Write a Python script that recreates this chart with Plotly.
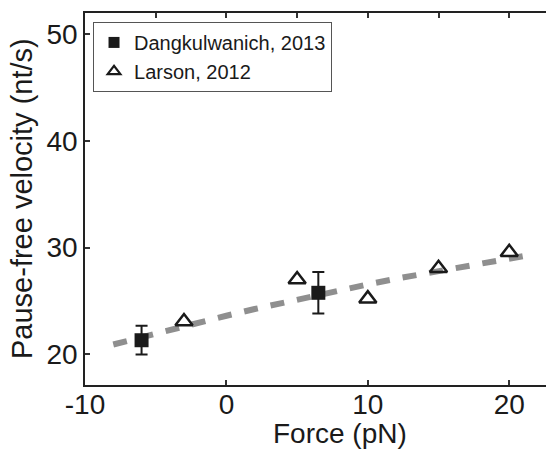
import plotly.graph_objects as go

# Data
dang_force = [-6, 6.5]
dang_vel = [21.3, 25.75]
dang_err = [1.35, 1.95]

larson_force = [-3, 5, 10, 15, 20]
larson_vel = [23.05, 27.0, 25.2, 28.05, 29.55]

fit_force = [-8, -6, -4, -2, 0, 2, 4, 6, 8, 10, 12, 14, 16, 18, 20, 21.5]
fit_vel = [20.9, 21.6, 22.29, 22.95, 23.6, 24.23, 24.83, 25.42, 25.99,
           26.54, 27.07, 27.57, 28.06, 28.53, 28.98, 29.31]

x_range = [-10, 22.6]
y_range = [17.1, 52]
x_ticks = [-10, 0, 10, 20]
x_ticklabels = ["-10", "0", "10", "20"]
y_ticks = [20, 30, 40, 50]

FONT = "Liberation Sans, Arial, sans-serif"
INK = "#1a1a1a"

fig = go.Figure()

fig.add_trace(go.Scatter(
    x=fit_force, y=fit_vel, mode="lines",
    line=dict(color="#8f8f8f", width=6, dash="14px,13px"),
    showlegend=False, hoverinfo="skip"))

fig.add_trace(go.Scatter(
    x=dang_force, y=dang_vel, mode="markers",
    marker=dict(symbol="square", size=14, color=INK),
    error_y=dict(type="data", array=dang_err, color=INK, thickness=2, width=6),
    showlegend=False))

fig.add_trace(go.Scatter(
    x=larson_force, y=larson_vel, mode="markers",
    marker=dict(symbol="triangle-up-open", size=15, color=INK,
                line=dict(width=2.5, color=INK)),
    showlegend=False))

# legend entries (smaller symbols as in the reference legend)
fig.add_trace(go.Scatter(
    x=[None], y=[None], mode="markers", name="Dangkulwanich, 2013",
    marker=dict(symbol="square", size=11, color=INK)))
fig.add_trace(go.Scatter(
    x=[None], y=[None], mode="markers", name="Larson, 2012",
    marker=dict(symbol="triangle-up-open", size=11, color=INK,
                line=dict(width=2.2, color=INK))))

# top axis ticks every 5
fig.add_trace(go.Scatter(x=[None], y=[None], xaxis="x2", showlegend=False))

fig.update_layout(
    width=546, height=449,
    margin=dict(l=85, r=0, t=13, b=64),
    paper_bgcolor="white", plot_bgcolor="white",
    font=dict(family=FONT, color=INK, size=28),
    xaxis=dict(range=x_range, tickvals=x_ticks, ticktext=x_ticklabels,
               ticks="inside", ticklen=5, ticklabelstandoff=-6,
               tickwidth=1.5, tickcolor="#333", showline=True, linecolor="#222",
               linewidth=1.5, showgrid=False, zeroline=False,
               tickfont=dict(size=28, color=INK)),
    xaxis2=dict(range=x_range, overlaying="x", side="top", dtick=5, tick0=0,
                ticks="inside", ticklen=5, tickwidth=1.5, tickcolor="#333",
                showline=True, linecolor="#222", linewidth=1.5,
                showticklabels=False, showgrid=False, zeroline=False),
    yaxis=dict(range=y_range, tickvals=y_ticks, ticks="inside", ticklen=5,
               tickwidth=1.5, tickcolor="#333", showline=True, linecolor="#222",
               linewidth=1.5, showgrid=False, zeroline=False,
               tickfont=dict(size=28, color=INK)),
    legend=dict(x=0.0174, y=0.976, xanchor="left", yanchor="top",
                bgcolor="white", bordercolor="#555", borderwidth=1,
                font=dict(size=20, color=INK, family=FONT),
                tracegroupgap=0, itemsizing="trace"),
    annotations=[
        dict(text="Force (pN)", xref="paper", yref="paper", x=0.553, y=0,
             yshift=-48, xanchor="center", yanchor="middle", showarrow=False,
             font=dict(size=28, color=INK, family=FONT)),
        dict(text="Pause-free velocity (nt/s)", xref="paper", yref="paper",
             x=0, y=0.5, xshift=-63, xanchor="center", yanchor="middle",
             textangle=-90, showarrow=False,
             font=dict(size=29, color=INK, family=FONT)),
    ],
)

fig.write_html("out.html")
